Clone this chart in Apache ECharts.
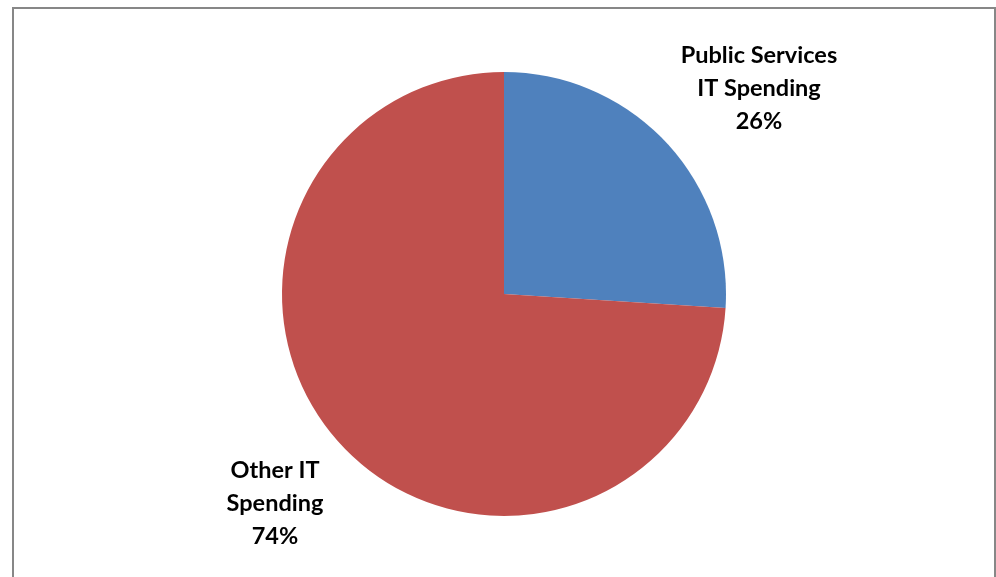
<!DOCTYPE html>
<html><head><meta charset="utf-8">
<script src="https://cdn.jsdelivr.net/npm/echarts@6/dist/echarts.min.js"></script>
<style>html,body{margin:0;padding:0;background:#fff}#c{width:996px;height:577px}</style>
</head><body><div id="c"></div>
<script>
const categories = ["Public Services\nIT Spending", "Other IT\nSpending"];
const values = [26, 74];
const colors = ["#4F81BD", "#C0504D"];
const labelPos = [[759, 88], [275, 503]];

const chart = echarts.init(document.getElementById('c'), null, {renderer: 'canvas'});
chart.setOption({
  animation: false,
  backgroundColor: '#fff',
  graphic: [{
    type: 'rect', shape: {x: 13, y: 8, width: 982, height: 600},
    style: {fill: 'none', stroke: '#878787', lineWidth: 2}
  }],
  series: [{
    type: 'pie',
    center: [504, 294],
    radius: 222,
    startAngle: 90,
    clockwise: true,
    data: categories.map((n, i) => ({name: n, value: values[i], itemStyle: {color: colors[i]}})),
    itemStyle: {borderWidth: 0},
    labelLine: {show: false},
    label: {
      show: true,
      position: 'outside',
      formatter: p => p.name + '\n' + Math.round(p.percent) + '%',
      fontFamily: 'Lato',
      fontWeight: 'bold',
      fontSize: 23.5,
      lineHeight: 33,
      color: '#000',
      align: 'center'
    },
    labelLayout: p => ({x: labelPos[p.dataIndex][0], y: labelPos[p.dataIndex][1], align: 'center', verticalAlign: 'middle'})
  }]
});
</script></body></html>
